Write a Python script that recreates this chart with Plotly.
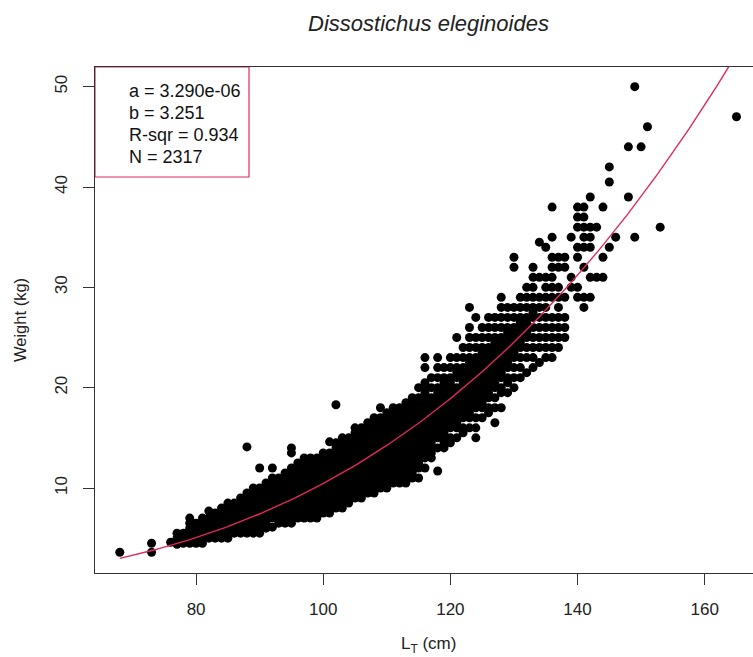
import plotly.graph_objects as go
import numpy as np

# Length (cm) -> recorded weights (kg); weights of the smaller fish are to 0.5 kg
SMALL_FISH = {
    68: [3.6],
    73: [3.6, 4.5],
    76: [4.6],
    77: [4.4, 5.0, 5.5],
    78: [4.5, 5.0, 5.5],
    79: [4.5, 5.0, 5.5, 6.0, 6.5, 7.0],
    80: [4.5, 5.0, 5.5, 6.0, 6.5],
    81: [4.5, 5.0, 5.5, 6.0, 6.5, 7.0],
    82: [5.0, 5.5, 6.0, 6.5, 7.0, 7.7],
    83: [5.0, 5.5, 6.0, 6.5, 7.0, 7.5],
    84: [5.0, 5.5, 6.0, 6.5, 7.0, 7.5, 8.0],
    85: [5.0, 5.5, 6.0, 6.5, 7.0, 7.5, 8.0, 8.5],
    86: [5.5, 6.0, 6.5, 7.0, 7.5, 8.0, 8.5],
    87: [5.5, 6.0, 6.5, 7.0, 7.5, 8.0, 8.5, 9.0],
    88: [5.5, 6.0, 6.5, 7.0, 7.5, 8.0, 8.5, 9.0, 9.5, 14.1],
    89: [5.5, 6.0, 6.5, 7.0, 7.5, 8.0, 8.5, 9.0, 9.5, 10.0],
    90: [5.5, 6.0, 6.5, 7.0, 7.5, 8.0, 8.5, 9.0, 9.5, 10.0, 12.0],
    91: [6.0, 6.5, 7.0, 7.5, 8.0, 8.5, 9.0, 9.5, 10.0, 10.5],
    92: [6.1, 7.0, 7.5, 8.0, 8.5, 9.0, 9.5, 10.0, 10.5, 11.0, 12.0],
    93: [6.5, 7.0, 7.5, 8.0, 8.5, 9.0, 9.5, 10.0, 10.5, 11.0],
    94: [6.5, 7.0, 7.5, 8.0, 8.5, 9.0, 9.5, 10.0, 10.5, 11.0, 11.5],
    95: [6.5, 7.0, 7.5, 8.0, 8.5, 9.0, 9.5, 10.0, 10.5, 11.0, 11.5, 12.0, 13.5, 14.0],
}

MID_FISH = {
    96: [7.0, 7.5, 8.0, 8.5, 9.0, 9.5, 10.0, 10.5, 11.0, 11.5, 12.0, 12.5],
    97: [7.0, 7.5, 8.0, 8.5, 9.0, 9.5, 10.0, 10.5, 11.0, 11.5, 12.0, 12.5, 13.0],
    98: [7.0, 7.5, 8.0, 8.5, 9.0, 9.5, 10.0, 10.5, 11.0, 11.5, 12.0, 12.5, 13.0],
    99: [7.0, 7.5, 8.0, 8.5, 9.0, 9.5, 10.0, 10.5, 11.0, 11.5, 12.0, 12.5, 13.0],
    100: [7.5, 8.0, 8.5, 9.0, 9.5, 10.0, 10.5, 11.0, 11.5, 12.0, 12.5, 13.0, 13.5],
    101: [7.5, 8.0, 8.5, 9.0, 9.5, 10.0, 10.5, 11.0, 11.5, 12.0, 12.5, 13.0, 13.5, 14.6],
    102: [8.0, 8.5, 9.0, 9.5, 10.0, 10.5, 11.0, 11.5, 12.0, 12.5, 13.0, 13.5, 14.0, 14.5, 18.3],
    103: [8.0, 8.5, 9.0, 9.5, 10.0, 10.5, 11.0, 11.5, 12.0, 12.5, 13.0, 13.5, 14.0, 14.5, 15.0],
    104: [8.5, 9.0, 9.5, 10.0, 10.5, 11.0, 11.5, 12.0, 12.5, 13.0, 13.5, 14.0, 14.5, 15.0],
    105: [9.0, 9.5, 10.0, 10.5, 11.0, 11.5, 12.0, 12.5, 13.0, 13.5, 14.0, 14.5, 15.0, 15.5, 16.0],
    106: [9.0, 9.5, 10.0, 10.5, 11.0, 11.5, 12.0, 12.5, 13.0, 13.5, 14.0, 14.5, 15.0, 15.5, 16.0],
    107: [9.5, 10.0, 10.5, 11.0, 11.5, 12.0, 12.5, 13.0, 13.5, 14.0, 14.5, 15.0, 15.5, 16.0, 16.5],
    108: [9.5, 10.0, 10.5, 11.0, 11.5, 12.0, 12.5, 13.0, 13.5, 14.0, 14.5, 15.0, 15.5, 16.0, 16.5, 17.0],
    109: [10.0, 10.5, 11.0, 11.5, 12.0, 12.5, 13.0, 13.5, 14.0, 14.5, 15.0, 15.5, 16.0, 16.5, 17.0, 18.0],
    110: [10.0, 10.5, 11.0, 11.5, 12.0, 12.5, 13.0, 13.5, 14.0, 14.5, 15.0, 15.5, 16.0, 16.5, 17.0, 17.5],
    111: [10.5, 11.0, 11.5, 12.0, 12.5, 13.0, 13.5, 14.0, 14.5, 15.0, 15.5, 16.0, 16.5, 17.0, 17.5, 18.0],
    112: [10.5, 11.0, 11.5, 12.0, 12.5, 13.0, 13.5, 14.0, 14.5, 15.0, 15.5, 16.0, 16.5, 17.0, 17.5, 18.0],
    113: [10.5, 11.0, 11.5, 12.0, 12.5, 13.0, 13.5, 14.0, 14.5, 15.0, 15.5, 16.0, 16.5, 17.0, 17.5, 18.0, 18.5],
    114: [11.0, 11.5, 12.0, 12.5, 13.0, 13.5, 14.0, 14.5, 15.0, 15.5, 16.0, 16.5, 17.0, 17.5, 18.0, 18.5, 19.0],
}

# Larger fish, mostly weighed to the whole or half kilogram
LARGE_FISH = {
    115: [11, 12, 12.5, 13, 13.5, 14, 14.5, 15, 15.5, 16, 16.5, 17, 17.5, 18, 18.5, 19, 20],
    116: [12, 13, 13.5, 14, 14.5, 15, 15.5, 16, 16.5, 17, 17.5, 18, 18.5, 19, 19.5, 20, 20.5, 22, 23],
    117: [13, 13.5, 14, 14.5, 15, 15.5, 16, 16.5, 17, 17.5, 18, 18.5, 19, 20, 21],
    118: [11.7, 14, 15, 15.5, 16, 16.5, 17, 17.5, 18, 18.5, 19, 19.5, 20, 21, 22, 23],
    119: [14, 14.5, 15, 15.5, 16, 16.5, 17, 17.5, 18, 18.5, 19, 19.5, 20, 20.5, 21, 22],
    120: [14.5, 15, 16, 16.5, 17, 17.5, 18, 18.5, 19, 19.5, 20, 20.5, 21, 22, 23],
    121: [15, 16, 16.5, 17, 17.5, 18, 18.5, 19, 19.5, 20, 21, 21.5, 22, 23, 25],
    122: [15.5, 16, 17, 17.5, 18, 18.5, 19, 19.5, 20, 20.5, 21, 21.5, 22, 23, 24],
    123: [16, 17, 17.5, 18, 18.5, 19, 19.5, 20, 20.5, 21, 21.5, 22, 22.5, 23, 24, 25, 26, 28],
    124: [15, 16, 17, 18, 18.5, 19, 19.5, 20, 20.5, 21, 21.5, 22, 22.5, 23, 24, 25, 27],
    125: [17, 18, 18.5, 19, 19.5, 20, 20.5, 21, 21.5, 22, 22.5, 23, 23.5, 24, 25, 26],
    126: [17.5, 18, 19, 19.5, 20, 20.5, 21, 21.5, 22, 22.5, 23, 23.5, 24, 25, 26, 27],
    127: [16.5, 18, 19, 20, 20.5, 21, 21.5, 22, 22.5, 23, 23.5, 24, 24.5, 25, 26, 27],
    128: [18, 19.5, 20, 21, 21.5, 22, 22.5, 23, 23.5, 24, 24.5, 25, 26, 27, 28, 29],
    129: [19.5, 20.5, 21, 22, 22.5, 23, 23.5, 24, 24.5, 25, 25.5, 26, 27, 28],
    130: [20, 21, 22, 23, 23.5, 24, 24.5, 25, 25.5, 26, 27, 28, 32, 33],
    131: [21, 22, 23, 24, 24.5, 25, 25.5, 26, 26.5, 27, 28, 29],
    132: [21.5, 23, 24, 25, 25.5, 26, 26.5, 27, 28, 29, 30],
    133: [22, 23, 24, 25, 26, 27, 27.5, 28, 29, 30, 31, 32],
    134: [22.5, 24, 25, 26, 27, 28, 29, 31, 34.5],
    135: [23, 24, 25, 26, 27, 28, 29, 30, 31, 34],
    136: [23, 24, 25, 26, 27, 29, 30, 31, 32, 33, 35, 38],
    137: [24, 25, 26, 27, 28, 29, 30, 32, 33],
    138: [25, 26, 27, 29, 32, 33],
    139: [30, 31, 35],
    140: [29, 30, 33, 34, 36, 37, 38],
    141: [28, 29, 32, 34, 35, 36, 37, 38],
    142: [29, 31, 34, 35, 36, 39],
    143: [31, 36],
    144: [31, 33, 38],
    145: [34, 40.5, 42],
    146: [35],
    148: [39, 44],
    149: [35, 50],
    150: [44],
    151: [46],
    153: [36],
    165: [47],
}

# Length-weight fit W = a * L^b
FIT_A = 3.290e-06
FIT_B = 3.251
R_SQR = 0.934
N_FISH = 2317

X_TICKS = [80, 100, 120, 140, 160]
Y_TICKS = [10, 20, 30, 40, 50]
X_RANGE = [64.1, 167.6]
Y_RANGE = [1.53, 51.96]

lengths, weights = [], []
for table in (SMALL_FISH, MID_FISH, LARGE_FISH):
    for length, ws in table.items():
        lengths.extend([length] * len(ws))
        weights.extend(ws)

fit_len = np.linspace(68, 165, 300)
fit_wt = FIT_A * fit_len ** FIT_B

W, H = 753, 657
L_M, R_M, T_M, B_M = 95, 0, 67, 84
PW, PH = W - L_M - R_M, H - T_M - B_M
FONT = "Liberation Sans, Arial, Helvetica, sans-serif"
FIT_COLOR = "#e0285a"


def px_x(px):
    return (px - L_M) / PW


def px_y(py):
    return (H - B_M - py) / PH


fig = go.Figure()
fig.add_trace(go.Scatter(
    x=lengths, y=weights, mode="markers",
    marker=dict(color="black", size=9, line=dict(width=0)),
    hoverinfo="skip", showlegend=False,
))
fig.add_trace(go.Scatter(
    x=fit_len, y=fit_wt, mode="lines",
    line=dict(color=FIT_COLOR, width=1.4),
    hoverinfo="skip", showlegend=False,
))

axis_common = dict(
    showgrid=False, zeroline=False, showline=True, linecolor="#333",
    linewidth=1.3, ticks="outside", ticklen=11, tickwidth=1.3,
    tickcolor="#333", tickfont=dict(family=FONT, size=17, color="#222"),
)
fig.update_xaxes(range=X_RANGE, tickvals=X_TICKS, mirror=True,
                 ticklabelstandoff=9, **axis_common)
fig.update_yaxes(range=Y_RANGE, tickvals=Y_TICKS, tickangle=-90,
                 ticklabelstandoff=9, **axis_common)

# Fit summary box in the upper-left corner
fig.add_shape(type="rect", xref="paper", yref="paper",
              x0=px_x(95), x1=px_x(249), y0=px_y(177), y1=px_y(67),
              line=dict(color=FIT_COLOR, width=1.2), fillcolor="white",
              layer="below")
summary = [f"a = {FIT_A:.3e}", f"b = {FIT_B:.3f}",
           f"R-sqr = {R_SQR:.3f}", f"N = {N_FISH}"]
for i, line in enumerate(summary):
    fig.add_annotation(x=px_x(127), y=px_y(91 + 22 * i), xref="paper", yref="paper",
                       text=line, showarrow=False, xanchor="left", yanchor="middle",
                       font=dict(family=FONT, size=18, color="#111"))

fig.add_annotation(x=px_x(428.5), y=px_y(645), xref="paper", yref="paper",
                   text="L<sub>T</sub> (cm)", showarrow=False,
                   xanchor="center", yanchor="middle",
                   font=dict(family=FONT, size=17, color="#222"))
fig.add_annotation(x=px_x(20), y=px_y(320), xref="paper", yref="paper",
                   text="Weight (kg)", showarrow=False, textangle=-90,
                   xanchor="center", yanchor="middle",
                   font=dict(family=FONT, size=16.5, color="#222"))

fig.update_layout(
    width=W, height=H,
    margin=dict(l=L_M, r=R_M, t=T_M, b=B_M),
    paper_bgcolor="white", plot_bgcolor="white",
    title=dict(text="<i>Dissostichus eleginoides</i>", x=428.5 / W, xref="container",
               y=1 - 23 / H, yref="container", xanchor="center", yanchor="middle",
               font=dict(family=FONT, size=22, color="#222")),
)

fig.write_html("out.html")
